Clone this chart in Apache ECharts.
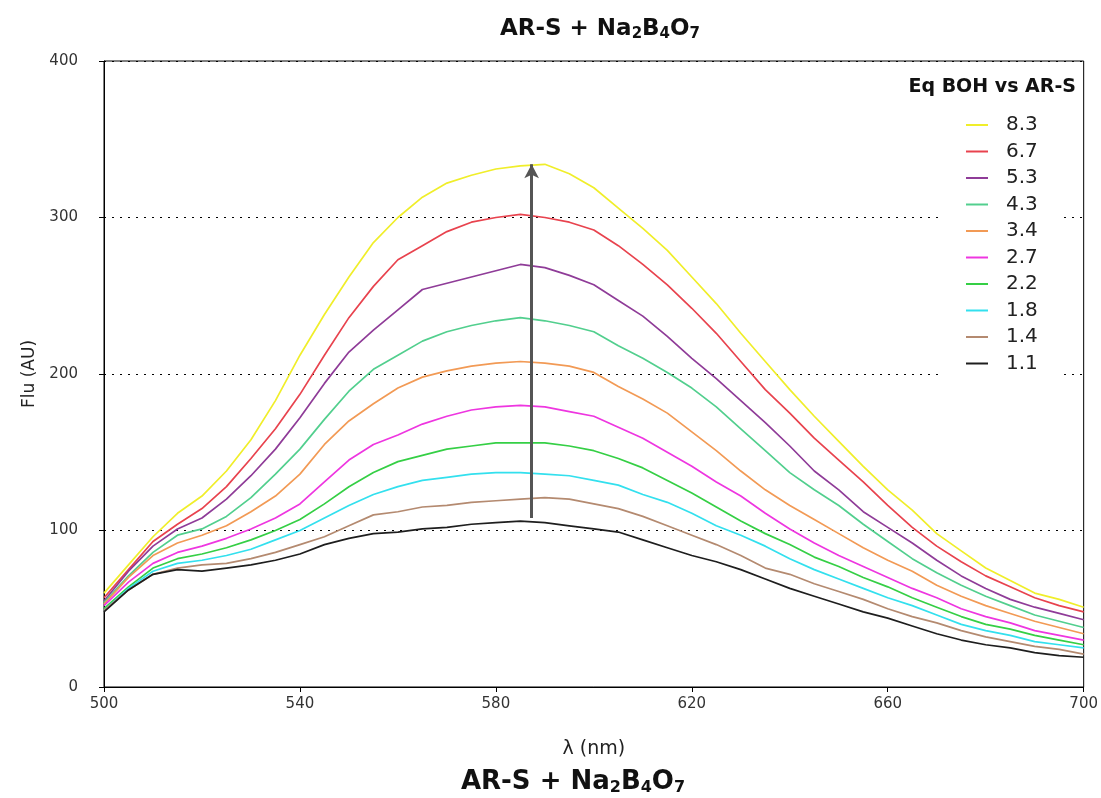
<!DOCTYPE html>
<html>
<head>
<meta charset="utf-8">
<script src="https://cdn.jsdelivr.net/npm/echarts@6/dist/echarts.min.js"></script>
<style>
html,body{margin:0;padding:0;background:#fff;}
#chart{width:1101px;height:798px;}
</style>
</head>
<body>
<div id="chart"></div>
<script>
// wavelength grid (nm)
const wavelengths = [500,505,510,515,520,525,530,535,540,545,550,555,560,565,570,575,580,585,590,595,600,605,610,615,620,625,630,635,640,645,650,655,660,665,670,675,680,685,690,695,700];

// Fluorescence (AU) for each Eq BOH vs AR-S
const eq83 = [60,78,96,111,122,138,158,183,212,238,262,284,300,313,322,327,331,333,334,328,319,306,293,279,262,245,226,208,190,173,157,141,126,113,98,87,76,68,60,56,51];
const eq67 = [57,75,93,104,114,128,146,165,187,212,236,256,273,282,291,297,300,302,300,297,292,282,270,257,242,226,208,190,175,159,145,131,116,102,90,80,71,64,57,52,48];
const eq53 = [55,74,90,101,108,120,135,152,172,194,214,228,241,254,258,262,266,270,268,263,257,247,237,224,210,197,183,169,154,138,126,112,102,92,81,71,63,56,51,47,43];
const eq43 = [54,71,86,97,101,109,121,136,152,171,189,203,212,221,227,231,234,236,234,231,227,218,210,201,191,179,165,151,137,126,116,104,93,82,73,65,58,52,46,42,38];
const eq34 = [53,70,84,92,97,103,112,122,136,155,170,181,191,198,202,205,207,208,207,205,201,192,184,175,163,151,138,126,116,107,98,89,81,74,65,58,52,47,42,38,34];
const eq27 = [52,67,79,86,90,95,101,108,117,131,145,155,161,168,173,177,179,180,179,176,173,166,159,150,141,131,122,111,101,92,84,77,70,63,57,50,45,41,36,33,30];
const eq22 = [50,64,76,82,85,89,94,100,107,117,128,137,144,148,152,154,156,156,156,154,151,146,140,132,124,115,106,98,91,83,77,70,64,57,51,45,40,37,33,30,27];
const eq18 = [49,63,74,79,81,84,88,94,100,108,116,123,128,132,134,136,137,137,136,135,132,129,123,118,111,103,97,90,82,75,69,63,57,52,46,40,36,33,29,27,25];
const eq14 = [49,62,72,76,78,79,82,86,91,96,103,110,112,115,116,118,119,120,121,120,117,114,109,103,97,91,84,76,72,66,61,56,50,45,41,36,32,29,26,24,21];
const eq11 = [48,62,72,75,74,76,78,81,85,91,95,98,99,101,102,104,105,106,105,103,101,99,94,89,84,80,75,69,63,58,53,48,44,39,34,30,27,25,22,20,19];

const seriesNames = ['8.3','6.7','5.3','4.3','3.4','2.7','2.2','1.8','1.4','1.1'];
const seriesValues = [eq83,eq67,eq53,eq43,eq34,eq27,eq22,eq18,eq14,eq11];
const seriesColors = ['#f0ee2a','#e8434e','#8f3c98','#52cf8e','#f29a55','#ee36e0','#35cf45','#33e0ee','#b48a70','#1e1e1e'];

// axis ticks
const xTickMin = 500, xTickMax = 700, xTickStep = 40;
const yTickMin = 0, yTickMax = 400, yTickStep = 100;

// arrow (wavelength, flu) start and end
const arrowStart = [587.3, 108];
const arrowEnd = [587.3, 334];

const chart = echarts.init(document.getElementById('chart'), null, {renderer:'canvas'});

const series = seriesNames.map((name, i) => ({
  name: name,
  type: 'line',
  data: wavelengths.map((w, j) => [w, seriesValues[i][j]]),
  showSymbol: false,
  symbol: 'none',
  smooth: false,
  color: seriesColors[i],
  lineStyle: {color: seriesColors[i], width: 1.7},
  emphasis: {disabled: true},
  silent: true,
  z: 2
}));

series.push({
  name: 'arrow',
  type: 'line',
  data: [],
  silent: true,
  z: 6,
  markLine: {
    silent: true,
    symbol: ['none', 'arrow'],
    symbolSize: [11, 14],
    label: {show: false},
    emphasis: {disabled: true},
    lineStyle: {color: '#555', width: 3, type: 'solid'},
    data: [[{coord: arrowStart}, {coord: arrowEnd}]]
  }
});

const titleRich = (big, small) => ({
  a: {font: 'bold ' + big + 'px "DejaVu Sans"', lineHeight: big + 2, fill: '#111'},
  s: {font: 'bold ' + small + 'px "DejaVu Sans"', lineHeight: small + 4, verticalAlign: 'bottom', fill: '#111'}
});
const titleText = '{a|AR-S + Na}{s|2}{a|B}{s|4}{a|O}{s|7}';

chart.setOption({
  animation: false,
  backgroundColor: '#fff',
  grid: {left: 104, right: 17, top: 61, bottom: 111, show: true, borderColor: '#000', borderWidth: 1, backgroundColor: 'transparent'},
  xAxis: {
    type: 'value', min: xTickMin, max: xTickMax, interval: xTickStep,
    name: 'λ (nm)', nameLocation: 'middle', nameGap: 53,
    nameTextStyle: {fontFamily: 'DejaVu Sans', fontSize: 19, color: '#222'},
    axisLine: {show: true, lineStyle: {color: '#000', width: 1}},
    axisTick: {show: true, length: 5, lineStyle: {color: '#000'}},
    axisLabel: {fontFamily: 'DejaVu Sans', fontSize: 15, color: '#333', margin: 10},
    splitLine: {show: false}
  },
  yAxis: {
    type: 'value', min: yTickMin, max: yTickMax, interval: yTickStep,
    name: 'Flu (AU)', nameLocation: 'middle', nameGap: 64, nameRotate: 90,
    nameTextStyle: {fontFamily: 'DejaVu Sans', fontSize: 17, color: '#222'},
    axisLine: {show: true, lineStyle: {color: '#000', width: 1}},
    axisTick: {show: true, length: 5, lineStyle: {color: '#000'}},
    axisLabel: {fontFamily: 'DejaVu Sans', fontSize: 15, color: '#333', margin: 26},
    splitLine: {show: true, lineStyle: {color: '#000', width: 1, type: [2, 6]}}
  },
  legend: {
    data: seriesNames,
    orient: 'vertical',
    left: 940, top: 105,
    padding: [10, 24, 8, 26],
    backgroundColor: '#fff',
    icon: 'rect',
    itemWidth: 22, itemHeight: 2,
    itemGap: 6.5,
    selectedMode: false,
    textStyle: {fontFamily: 'DejaVu Sans', fontSize: 20, color: '#222', lineHeight: 20, padding: [0, 0, 0, 13]}
  },
  graphic: [
    {type: 'text', x: 600, y: 29, silent: true,
      style: {text: titleText, rich: titleRich(23, 15), align: 'center', verticalAlign: 'middle', textAlign: 'center', textVerticalAlign: 'middle'}},
    {type: 'text', x: 573, y: 782, silent: true,
      style: {text: titleText, rich: titleRich(26, 16), align: 'center', verticalAlign: 'middle', textAlign: 'center', textVerticalAlign: 'middle'}},
    {type: 'text', x: 1076, y: 87, silent: true,
      style: {text: 'Eq BOH vs AR-S', font: 'bold 19px "DejaVu Sans"', fill: '#111', align: 'right', verticalAlign: 'middle', textAlign: 'right', textVerticalAlign: 'middle'}}
  ],
  series: series
});
</script>
</body>
</html>
